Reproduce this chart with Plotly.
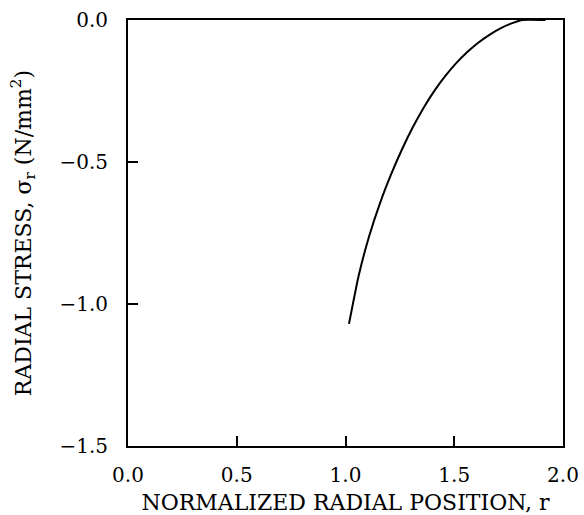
import plotly.graph_objects as go

# Values
r_pos = [1.016, 1.06, 1.11, 1.16, 1.21, 1.26, 1.31, 1.36, 1.41, 1.46, 1.51, 1.56, 1.61, 1.66, 1.71, 1.76, 1.811, 1.92]
sigma_r = [-1.07, -0.902, -0.758, -0.642, -0.543, -0.455, -0.377, -0.308, -0.248, -0.196, -0.151, -0.113, -0.080, -0.053, -0.030, -0.013, 0.0, 0.0]

x_ticks = [0.0, 0.5, 1.0, 1.5, 2.0]
x_tick_labels = ["0.0", "0.5", "1.0", "1.5", "2.0"]
y_ticks = [0.0, -0.5, -1.0, -1.5]
y_tick_labels = ["0.0", "\u22120.5", "\u22121.0", "\u22121.5"]

FONT = "DejaVu Serif"

fig = go.Figure()
fig.add_trace(go.Scatter(
    x=r_pos, y=sigma_r, mode="lines",
    line=dict(color="black", width=2, shape="spline", smoothing=0.5),
    showlegend=False, hoverinfo="skip",
))

fig.update_layout(
    width=584, height=515,
    margin=dict(l=128, r=21, t=20, b=69, autoexpand=False),
    paper_bgcolor="white", plot_bgcolor="white",
    font=dict(family=FONT, color="black", size=20),
)
fig.update_xaxes(
    range=[0, 2], tickmode="array", tickvals=x_ticks, ticktext=x_tick_labels,
    ticks="inside", ticklen=10, tickwidth=1.5, tickcolor="black",
    showline=True, linecolor="black", linewidth=2, mirror=True,
    showgrid=False, zeroline=False, ticklabelstandoff=10, automargin=False,
    tickfont=dict(family=FONT, size=20),
    title=dict(text="NORMALIZED RADIAL POSITION, r", font=dict(family=FONT, size=22), standoff=10),
)
fig.update_yaxes(
    range=[-1.5, 0], tickmode="array", tickvals=y_ticks, ticktext=y_tick_labels,
    ticks="inside", ticklen=10, tickwidth=1.5, tickcolor="black",
    showline=True, linecolor="black", linewidth=2, mirror=True,
    showgrid=False, zeroline=False, ticklabelstandoff=14, automargin=False,
    tickfont=dict(family=FONT, size=20),
    title=dict(text="RADIAL STRESS, \u03c3<sub>r</sub> (N/mm<sup>2</sup>)", font=dict(family=FONT, size=22), standoff=22),
)

fig.write_html("out.html")
